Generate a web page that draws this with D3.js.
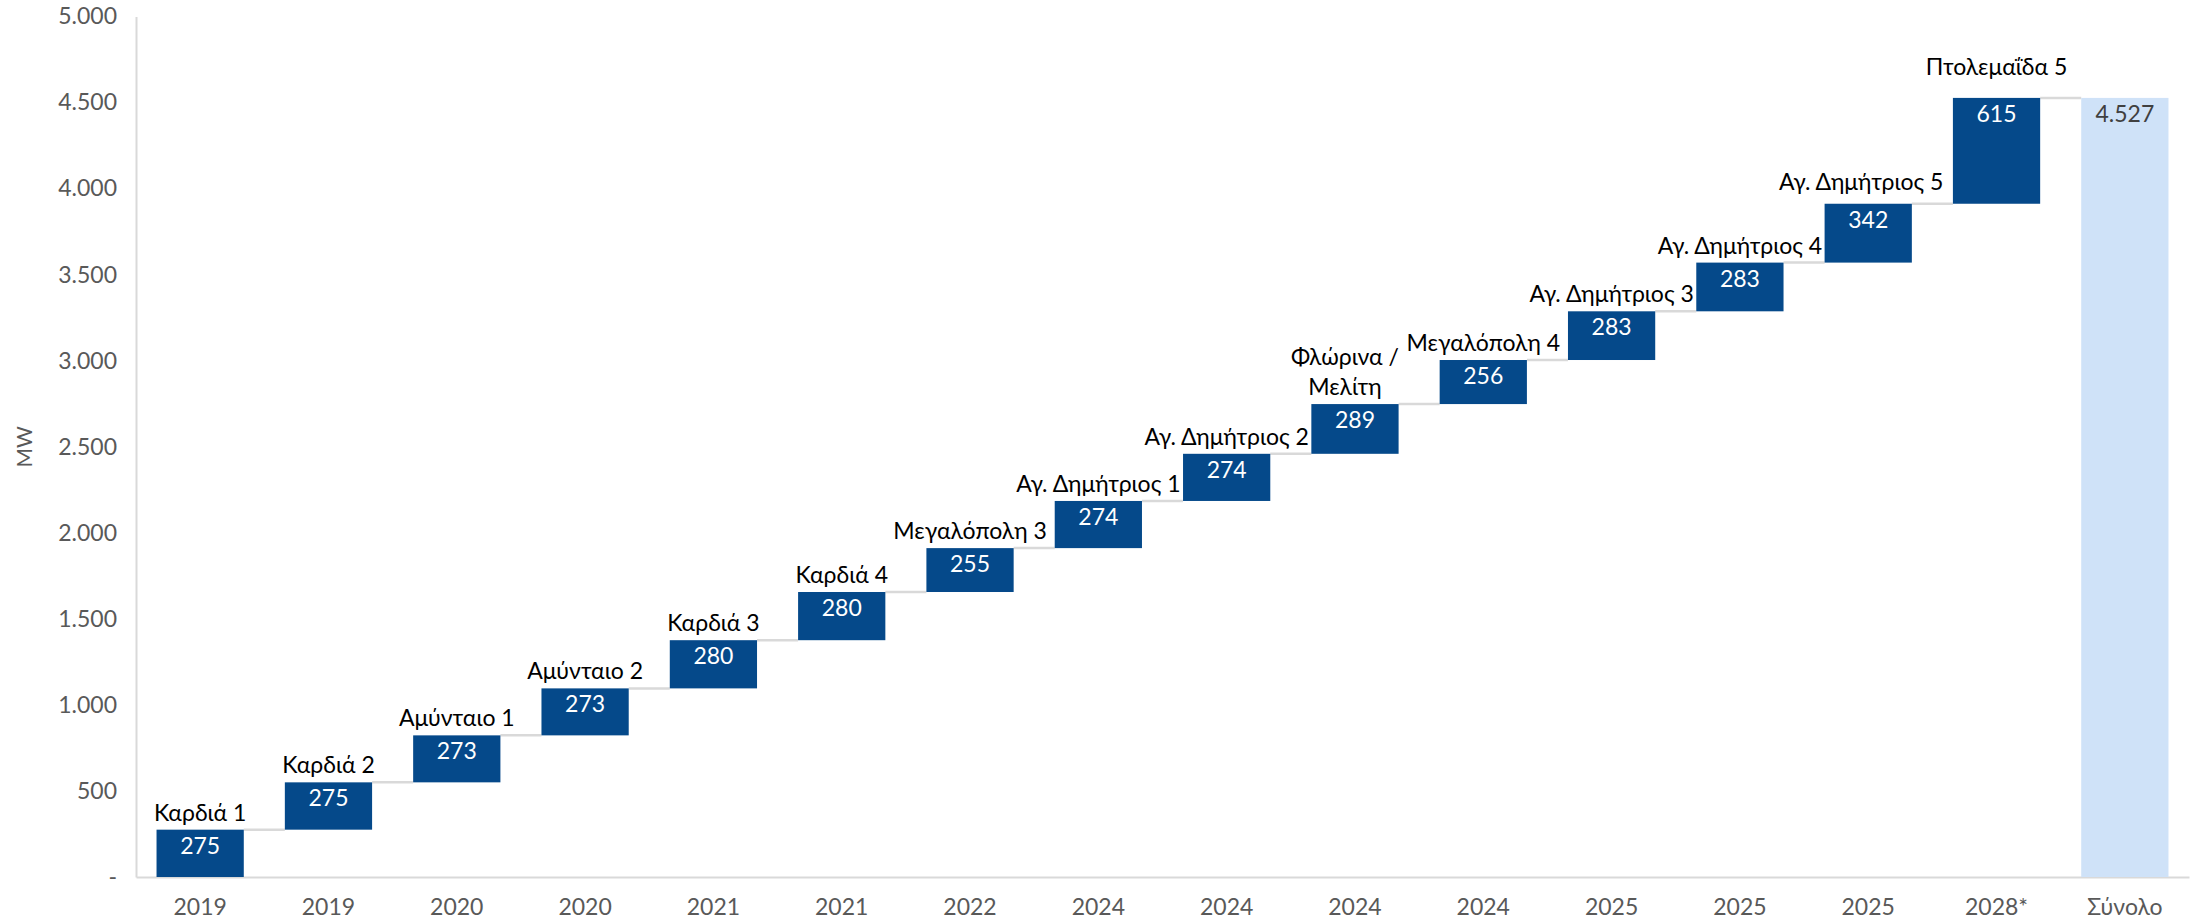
<!DOCTYPE html>
<html>
<head>
<meta charset="utf-8">
<script src="https://cdn.jsdelivr.net/npm/d3@7"></script>
<style>
  body { margin: 0; background: #fff; }
  svg { display: block; font-family: "Lato", "Noto Sans", sans-serif; }
</style>
</head>
<body>
<svg id="chart"></svg>
<script>
"use strict";

// Units (MW) added per step, in order
const units = [
    "Καρδιά 1", "Καρδιά 2", "Αμύνταιο 1", "Αμύνταιο 2", "Καρδιά 3", "Καρδιά 4",
    "Μεγαλόπολη 3", "Αγ. Δημήτριος 1", "Αγ. Δημήτριος 2", "Φλώρινα / Μελίτη",
    "Μεγαλόπολη 4", "Αγ. Δημήτριος 3", "Αγ. Δημήτριος 4", "Αγ. Δημήτριος 5", "Πτολεμαΐδα 5"
];
const years = [
    "2019", "2019", "2020", "2020", "2021", "2021", "2022", "2024",
    "2024", "2024", "2024", "2025", "2025", "2025", "2028*"
];
const capacity = [275, 275, 273, 273, 280, 280, 255, 274, 274, 289, 256, 283, 283, 342, 615];
const totalLabel = "Σύνολο";
const yTicks = [0, 500, 1000, 1500, 2000, 2500, 3000, 3500, 4000, 4500, 5000];
const yTitle = "MW";

const width = 2201, height = 922;
const margin = { top: 16.5, right: 12, bottom: 45, left: 136 };

const svg = d3.select("#chart")
    .attr("width", width)
    .attr("height", height);

// Build waterfall steps
let running = 0;
const steps = capacity.map((v, i) => {
    const s = { i, name: units[i], year: years[i], start: running, end: running + v, value: v, total: false };
    running += v;
    return s;
});
steps.push({ i: steps.length, name: "", year: totalLabel, start: 0, end: running, value: running, total: true });

const x = d3.scaleBand()
    .domain(steps.map(d => d.i))
    .range([margin.left, width - margin.right])
    .paddingInner(0.32)
    .paddingOuter(0.16);

const y = d3.scaleLinear()
    .domain([0, 5000])
    .range([height - margin.bottom, margin.top]);

const grLocale = d3.formatLocale({ decimal: ",", thousands: ".", grouping: [3], currency: ["", "€"] });
const fmt = grLocale.format(",d");

// Axes
const yAxis = d3.axisLeft(y)
    .tickValues(yTicks)
    .tickSize(0)
    .tickPadding(19)
    .tickFormat(d => d === 0 ? "-" : fmt(d));

const gy = svg.append("g")
    .attr("transform", `translate(${margin.left},0)`)
    .call(yAxis);
gy.select(".domain").attr("stroke", "#d9d9d9").attr("stroke-width", 2);
gy.selectAll("text")
    .attr("fill", "#595959")
    .attr("font-size", "23px")
    .attr("font-family", "Lato, sans-serif");

const xAxis = d3.axisBottom(x)
    .tickSize(0)
    .tickPadding(22)
    .tickFormat(i => steps[i].year);

const gx = svg.append("g")
    .attr("transform", `translate(0,${y(0)})`)
    .call(xAxis);
gx.select(".domain").attr("stroke", "#d9d9d9").attr("stroke-width", 2);
gx.selectAll("text")
    .attr("fill", "#595959")
    .attr("font-size", "23px")
    .attr("font-family", "Lato, sans-serif");

svg.append("text")
    .attr("transform", `translate(27,${(y(0) + y(5000)) / 2}) rotate(-90)`)
    .attr("text-anchor", "middle")
    .attr("dominant-baseline", "middle")
    .attr("fill", "#595959")
    .attr("font-size", "21px")
    .text(yTitle);

// Connector lines between steps
svg.selectAll(".connector")
    .data(steps.slice(0, -1))
    .enter()
    .append("line")
    .attr("class", "connector")
    .attr("x1", d => x(d.i) + x.bandwidth())
    .attr("x2", d => x(d.i + 1))
    .attr("y1", d => y(d.end))
    .attr("y2", d => y(d.end))
    .attr("stroke", "#d9d9d9")
    .attr("stroke-width", 2.5);

// Bars
svg.selectAll(".bar")
    .data(steps)
    .enter()
    .append("rect")
    .attr("class", "bar")
    .attr("x", d => x(d.i))
    .attr("width", x.bandwidth())
    .attr("y", d => y(d.end))
    .attr("height", d => y(d.start) - y(d.end))
    .attr("fill", d => d.total ? "#cfe2f8" : "#05498a");

// Values inside bars
svg.selectAll(".val")
    .data(steps)
    .enter()
    .append("text")
    .attr("class", "val")
    .attr("x", d => x(d.i) + x.bandwidth() / 2)
    .attr("y", d => y(d.end) + 24)
    .attr("text-anchor", "middle")
    .attr("font-size", "23px")
    .attr("fill", d => d.total ? "#404040" : "#ffffff")
    .text(d => fmt(d.value));

// a few labels were dragged by hand in the original
const nudge = { 9: [-10, 0], 13: [-7, -5], 14: [0, -14] };

// Unit names above bars (split on " / " into two lines)
svg.selectAll(".name")
    .data(steps.filter(d => !d.total))
    .enter()
    .append("text")
    .attr("class", "name")
    .attr("text-anchor", "middle")
    .attr("font-size", "23px")
    .attr("fill", "#000")
    .each(function (d) {
        const parts = d.name.split(" / ");
        const lines = parts.length > 1 ? [parts[0] + " /", parts[1]] : [d.name];
        const [dx, dy] = nudge[d.i] || [0, 0];
        const cx = x(d.i) + x.bandwidth() / 2 + dx;
        const base = y(d.end) - 9 + dy;
        lines.forEach((t, k) => {
            d3.select(this).append("tspan")
                .attr("x", cx)
                .attr("y", base - (lines.length - 1 - k) * 30)
                .text(t);
        });
    });
</script>
</body>
</html>
